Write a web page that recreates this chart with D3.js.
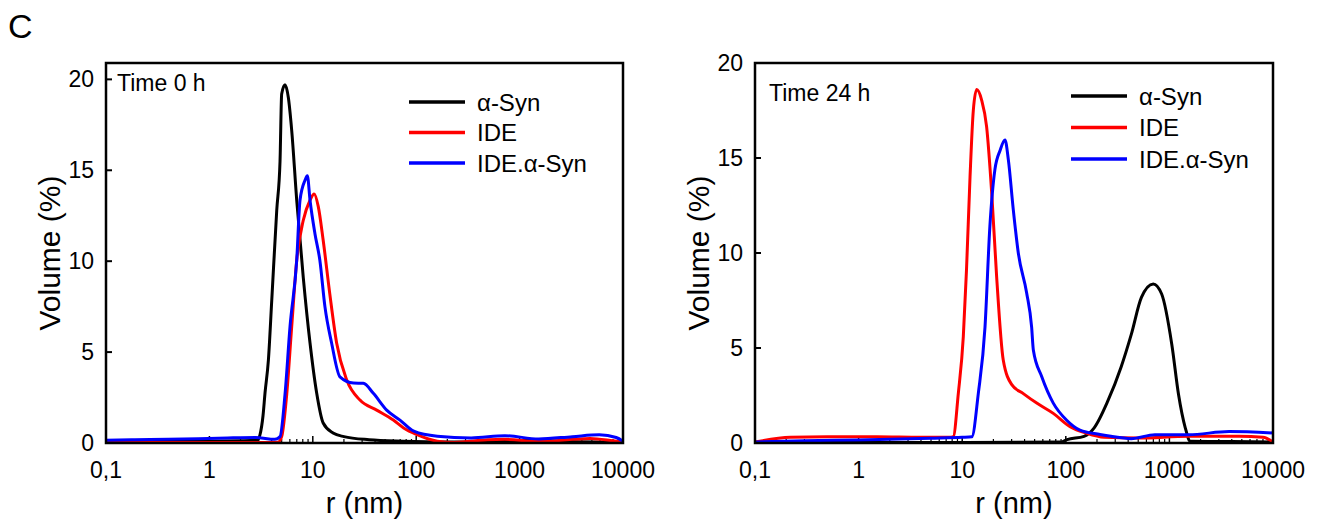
<!DOCTYPE html>
<html>
<head>
<meta charset="utf-8">
<script src="https://cdn.jsdelivr.net/npm/d3@7"></script>
<style>
  body { margin: 0; background: #fff; }
  text { font-family: Arial, "Liberation Sans", sans-serif; fill: #000; }
</style>
</head>
<body>
<svg id="chart" width="1320" height="525"></svg>
<script>
// axis values
var xTickVals = [0.1, 1, 10, 100, 1000, 10000];
var xTickLabels = ["0,1", "1", "10", "100", "1000", "10000"];
var yTickVals = [0, 5, 10, 15, 20];
var seriesNames = ["α-Syn", "IDE", "IDE.α-Syn"];

// Time 0 h, [r (nm), volume %]
var syn0h = [[0.1,0.1],[0.5,0.1],[1,0.1],[2,0.12],[2.9,0.15],[3.08,0.44],[3.3,1.5],[3.45,2.75],[3.72,4.56],[4.01,7.86],[4.48,12.8],
  [4.82,15.5],[5.0,19.2],[5.39,19.7],[5.8,19.0],[6.25,17.2],[6.99,13.35],[8.09,9.1],[9.4,5.5],[10.9,2.75],[12.6,1.1],
  [15.7,0.55],[20,0.35],[35,0.18],[75,0.1],[200,0.06],[600,0.1],[1500,0.15],[3000,0.08],[10000,0.05]];
var ide0h = [[0.1,0.03],[1,0.03],[3,0.03],[4.6,0.04],[5.0,0.35],[5.6,2.7],[6.25,6.4],[6.99,10.05],[8.09,12.25],[9.4,13.35],
  [10.3,13.7],[11.3,13.0],[12.6,11.15],[14.6,8.2],[17.0,5.5],[21.3,3.46],[28.6,2.36],[41.5,1.81],[60.1,1.26],[75.6,0.83],
  [102,0.46],[160,0.1],[234,0.03],[493,0.18],[720,0.2],[1520,0.08],[4800,0.25],[8000,0.12],[10000,0.05]];
var mix0h = [[0.1,0.15],[0.19,0.18],[0.4,0.2],[1.5,0.28],[2.8,0.3],[4.3,0.2],[4.82,0.35],[5.39,2.7],[6.02,6.4],[6.99,10.05],
  [7.52,13.35],[8.41,14.45],[8.86,14.7],[9.4,13.35],[10.5,11.5],[11.7,10.05],[13.1,7.5],[15.2,5.5],[18.3,3.64],[24.7,3.3],
  [30.8,3.28],[38.5,2.73],[51.8,1.81],[69.7,1.26],[94.8,0.65],[160,0.37],[340,0.28],[721,0.4],[1530,0.22],[3240,0.35],
  [5900,0.45],[8600,0.3],[10000,0.1]];

// Time 24 h
var syn24h = [[0.1,0.03],[1,0.03],[10,0.03],[90,0.05],[103,0.18],[150,0.35],[188,0.8],[254,2.2],[342,4.0],[428,5.7],
  [537,7.66],[698,8.37],[842,7.84],[1054,5.2],[1225,2.55],[1423,0.8],[1592,0.09],[3000,0.08],[10000,0.05]];
var ide24h = [[0.1,0.05],[0.22,0.3],[0.5,0.33],[1.5,0.33],[4,0.3],[7.5,0.3],[8.2,0.33],[9.17,2.6],[10.25,5.6],[11.0,9.1],
  [11.9,14.0],[12.8,17.5],[13.8,18.6],[15.4,18.05],[17.2,16.65],[19.3,13.1],[21.5,8.75],[24.9,4.37],[30.1,3.07],[38.9,2.6],
  [52.4,2.1],[75.7,1.56],[110,0.86],[159,0.51],[235,0.3],[498,0.26],[1535,0.35],[4720,0.35],[8000,0.3],[10000,0.05]];
var mix24h = [[0.1,0.05],[0.3,0.12],[1,0.16],[5,0.25],[10,0.3],[12.4,0.33],[14.3,2.6],[16.6,6.1],[18.5,11.4],[20.7,14.4],
  [23.2,15.4],[25.9,15.95],[27.9,14.9],[31.1,12.3],[34.8,10.0],[41.9,7.9],[46.8,6.1],[48.6,4.9],[58.5,3.5],[75.7,2.1],
  [102,1.2],[137,0.68],[214,0.45],[273,0.35],[428,0.23],[724,0.44],[1535,0.44],[3770,0.6],[10000,0.53]];

var colors = ["#000000", "#ff0000", "#0000ff"];

var svg = d3.select("#chart");

svg.append("text").attr("x", 8).attr("y", 38).style("font-size", "34px").text("C");

var panels = [
  {x0: 106, x1: 623, y0: 63, y1: 443, yMax: 20.9, label: "Time 0 h", labelX: 117, labelY: 91,
   data: [syn0h, ide0h, mix0h], legX: 409, legY: 102, legStep: 30.5},
  {x0: 755, x1: 1273, y0: 63, y1: 443, yMax: 20, label: "Time 24 h", labelX: 769, labelY: 101,
   data: [syn24h, ide24h, mix24h], legX: 1071, legY: 96, legStep: 31.5}
];

panels.forEach(function(p) {
  var g = svg.append("g");

  var x = d3.scaleLog().domain([0.1, 10000]).range([p.x0, p.x1]);
  var y = d3.scaleLinear().domain([0, p.yMax]).range([p.y1, p.y0]);

  // minor + major ticks, pointing inward
  var minor = [];
  for (var d = 0.1; d < 10000; d *= 10) {
    for (var k = 2; k <= 9; k++) minor.push(d * k);
  }
  g.selectAll(".minor").data(minor).join("line")
    .attr("x1", d => x(d)).attr("x2", d => x(d))
    .attr("y1", p.y1).attr("y2", p.y1 - 4)
    .attr("stroke", "#000").attr("stroke-width", 1.2);
  g.selectAll(".major").data(xTickVals).join("line")
    .attr("x1", d => x(d)).attr("x2", d => x(d))
    .attr("y1", p.y1).attr("y2", p.y1 - 7)
    .attr("stroke", "#000").attr("stroke-width", 1.5);
  g.selectAll(".ytick").data(yTickVals).join("line")
    .attr("x1", p.x0).attr("x2", p.x0 + 6)
    .attr("y1", d => y(d)).attr("y2", d => y(d))
    .attr("stroke", "#000").attr("stroke-width", 2);

  // tick labels
  g.selectAll(".xlab").data(xTickVals).join("text")
    .attr("x", d => x(d)).attr("y", 478)
    .attr("text-anchor", "middle").style("font-size", "23px")
    .text((d, i) => xTickLabels[i]);
  g.selectAll(".ylab").data(yTickVals).join("text")
    .attr("x", p.x0 - 12).attr("y", d => y(d) + 8)
    .attr("text-anchor", "end").style("font-size", "23px")
    .text(d => d);

  // axis titles
  g.append("text")
    .attr("x", (p.x0 + p.x1) / 2).attr("y", 513)
    .attr("text-anchor", "middle").style("font-size", "29px")
    .text("r (nm)");
  g.append("text")
    .attr("transform", "translate(" + (p.x0 - 46) + "," + ((p.y0 + p.y1) / 2) + ") rotate(-90)")
    .attr("text-anchor", "middle").style("font-size", "30px")
    .text("Volume (%)");

  // curves
  var line = d3.line()
    .x(d => x(d[0])).y(d => y(d[1]))
    .curve(d3.curveMonotoneX);
  p.data.forEach(function(s, i) {
    g.append("path")
      .attr("d", line(s))
      .attr("fill", "none")
      .attr("stroke", colors[i])
      .attr("stroke-width", 3)
      .attr("stroke-linejoin", "round");
  });

  // frame
  g.append("rect")
    .attr("x", p.x0).attr("y", p.y0)
    .attr("width", p.x1 - p.x0).attr("height", p.y1 - p.y0)
    .attr("fill", "none").attr("stroke", "#000").attr("stroke-width", 2.5);

  g.append("text")
    .attr("x", p.labelX).attr("y", p.labelY)
    .style("font-size", "23px")
    .text(p.label);

  // legend
  seriesNames.forEach(function(name, i) {
    var ly = p.legY + i * p.legStep;
    g.append("line")
      .attr("x1", p.legX).attr("x2", p.legX + 56)
      .attr("y1", ly).attr("y2", ly)
      .attr("stroke", colors[i]).attr("stroke-width", 3.5);
    g.append("text")
      .attr("x", p.legX + 68).attr("y", ly + 8.5)
      .style("font-size", "24px")
      .text(name);
  });
});
</script>
</body>
</html>
